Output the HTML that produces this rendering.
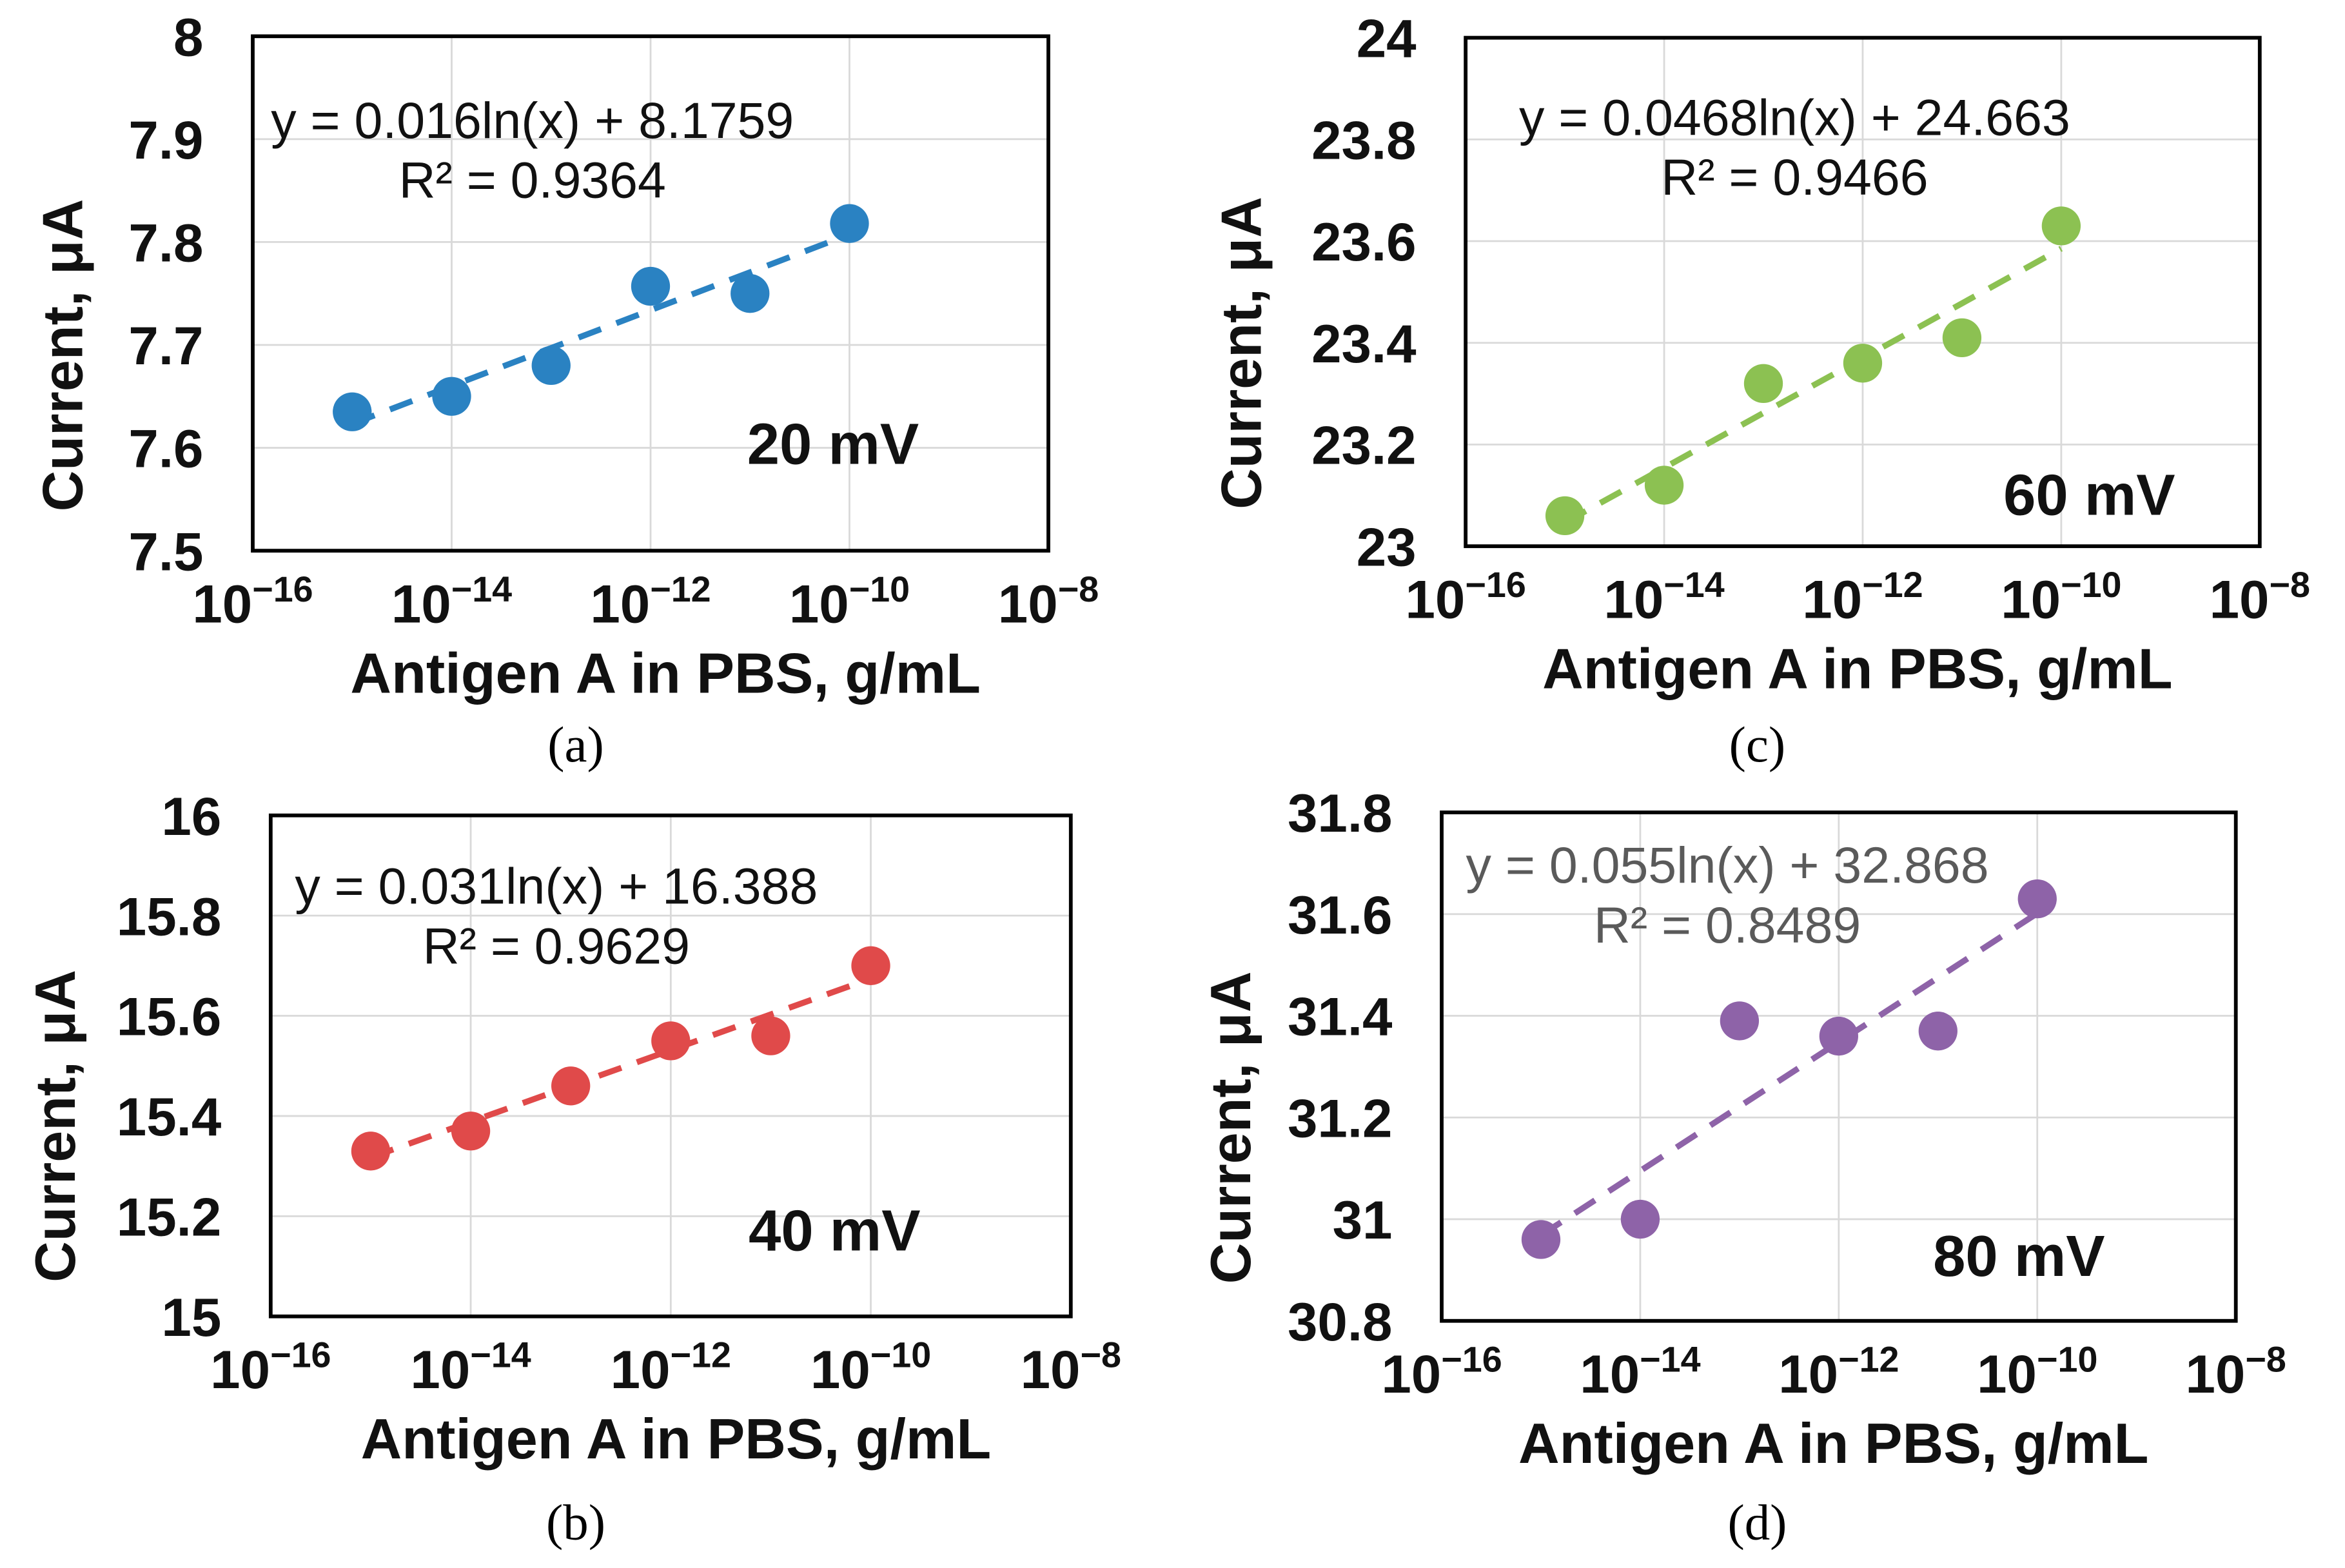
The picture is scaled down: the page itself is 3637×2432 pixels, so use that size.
<!DOCTYPE html>
<html><head><meta charset="utf-8"><style>html,body{margin:0;padding:0;background:#fff}svg{display:block}</style></head>
<body>
<svg id="fig" xmlns="http://www.w3.org/2000/svg" width="3637" height="2432" viewBox="0 0 1568 1048" font-family="Liberation Sans, sans-serif"></svg>
<script>
const xExp = [-15, -14, -13, -12, -11, -10];
const seriesA = [7.635, 7.65, 7.68, 7.757, 7.75, 7.818];
const seriesB = [15.33, 15.37, 15.46, 15.55, 15.56, 15.70];
const seriesC = [23.06, 23.12, 23.32, 23.36, 23.41, 23.63];
const seriesD = [30.96, 31.0, 31.39, 31.36, 31.37, 31.63];
const xTickExp = [-16, -14, -12, -10, -8];
const yTicksA = [7.5, 7.6, 7.7, 7.8, 7.9, 8];
const yTicksB = [15, 15.2, 15.4, 15.6, 15.8, 16];
const yTicksC = [23, 23.2, 23.4, 23.6, 23.8, 24];
const yTicksD = [30.8, 31, 31.2, 31.4, 31.6, 31.8];
const labelsA = ["7.5","7.6","7.7","7.8","7.9","8"];
const labelsB = ["15","15.2","15.4","15.6","15.8","16"];
const labelsC = ["23","23.2","23.4","23.6","23.8","24"];
const labelsD = ["30.8","31","31.2","31.4","31.6","31.8"];
const fitA = [0.016, 8.1759], fitB = [0.031, 16.388], fitC = [0.0468, 24.663], fitD = [0.055, 32.868];

const panels = [
 {id:'a', vals:seriesA, ticks:yTicksA, labels:labelsA, fit:fitA, color:'#2a82c2', eq:['y = 0.016ln(x) + 8.1759','R² = 0.9364'], eqColor:'#111', mv:'20 mV',
  L:169, R:701, T:24, B:368, eqX:356, eqY:80, mvX:557, mvY:297, cap:'(a)', capX:385, capY:498, xtX:445, ytX:42},
 {id:'c', vals:seriesC, ticks:yTicksC, labels:labelsC, fit:fitC, color:'#8cc152', eq:['y = 0.0468ln(x) + 24.663','R² = 0.9466'], eqColor:'#111', mv:'60 mV',
  L:980, R:1511, T:25, B:365, eqX:1200, eqY:78, mvX:1397, mvY:331, cap:'(c)', capX:1175, capY:498, xtX:1242, ytX:830},
 {id:'b', vals:seriesB, ticks:yTicksB, labels:labelsB, fit:fitB, color:'#e04a4a', eq:['y = 0.031ln(x) + 16.388','R² = 0.9629'], eqColor:'#111', mv:'40 mV',
  L:181, R:716, T:545, B:880, eqX:372, eqY:592, mvX:558, mvY:823, cap:'(b)', capX:385, capY:1018, xtX:452, ytX:37},
 {id:'d', vals:seriesD, ticks:yTicksD, labels:labelsD, fit:fitD, color:'#8e63a8', eq:['y = 0.055ln(x) + 32.868','R² = 0.8489'], eqColor:'#5a5a5a', mv:'80 mV',
  L:964, R:1495, T:543, B:883, eqX:1155, eqY:578, mvX:1350, mvY:840, cap:'(d)', capX:1175, capY:1018, xtX:1226, ytX:823}
];
const NS='http://www.w3.org/2000/svg';
const svg=document.getElementById('fig');
function mk(tag, attrs, parent){const e=document.createElementNS(NS,tag);for(const k in attrs)e.setAttribute(k,attrs[k]);(parent||svg).appendChild(e);return e;}
panels.forEach(p=>{
  const g=mk('g',{});
  
  
  const y0=p.ticks[0], y1=p.ticks[p.ticks.length-1];
  const sx=e=>p.L+(e-(-16))/8*(p.R-p.L);
  const sy=v=>p.B-(v-y0)/(y1-y0)*(p.B-p.T);
  p.ticks.forEach(t=>{const l=mk('line',{x1:p.L,x2:p.R,y1:sy(t),y2:sy(t),stroke:'#d9d9d9','stroke-width':1.2},g);
    
    });
  xTickExp.forEach(t=>{const l=mk('line',{x1:sx(t),x2:sx(t),y1:p.T,y2:p.B,stroke:'#d9d9d9','stroke-width':1.2},g);
    
    });
  const box=mk('rect',{x:p.L,y:p.T,width:p.R-p.L,height:p.B-p.T,fill:'none',stroke:'#000','stroke-width':2.5},g);
  
  
  p.ticks.forEach((t,i)=>{const tx=mk('text',{x:p.L-33,y:sy(t)+13,'text-anchor':'end','font-size':36,'font-weight':'bold',fill:'#111'},g);
    tx.textContent=p.labels[i];
    
    });
  xTickExp.forEach(t=>{const tx=mk('text',{x:sx(t),y:p.B+48,'text-anchor':'middle','font-size':36,'font-weight':'bold',fill:'#111'},g);
    tx.textContent='10';
    const ts=mk('tspan',{dy:-14,'font-size':24},tx);ts.textContent='−'+Math.abs(t);
    
    });
  const xt=mk('text',{x:p.xtX,y:p.B+95,'text-anchor':'middle','font-size':38,'font-weight':'bold',fill:'#111'},g);
  xt.textContent='Antigen A in PBS, g/mL';
  
  
  const cx=p.ytX, cy=p.T+0.62*(p.B-p.T);
  const yt=mk('text',{x:cx+13,y:cy,'text-anchor':'middle','font-size':38,'font-weight':'bold',fill:'#111',transform:`rotate(-90 ${cx+13} ${cy})`},g);
  yt.textContent='Current, μA';
  
  
  const xa=xExp[0], xb=xExp[xExp.length-1];
  const f=e=>p.fit[0]*e*Math.LN10+p.fit[1];
  const tl=mk('line',{x1:sx(xa),y1:sy(f(xa)),x2:sx(xb),y2:sy(f(xb)),stroke:p.color,'stroke-width':4,'stroke-dasharray':'16 11'},g);
  
  
  p.vals.forEach((v,i)=>{const c=mk('circle',{cx:sx(xExp[i]),cy:sy(v),r:13,fill:p.color},g);
    
    });
  p.eq.forEach((s,i)=>{const tx=mk('text',{x:p.eqX,y:p.eqY+12+i*40,'text-anchor':'middle','font-size':34,fill:p.eqColor},g);
    tx.textContent=s;
    
    });
  const mv=mk('text',{x:p.mvX,y:p.mvY+13,'text-anchor':'middle','font-size':39,'font-weight':'bold',fill:'#111'},g);
  mv.textContent=p.mv;
  
  
  const cap=mk('text',{x:p.capX,y:p.capY+11,'text-anchor':'middle','font-size':34,'font-family':'Liberation Serif, serif',fill:'#000'},g);
  cap.textContent=p.cap;
  
  
});
</script>
</body></html>
